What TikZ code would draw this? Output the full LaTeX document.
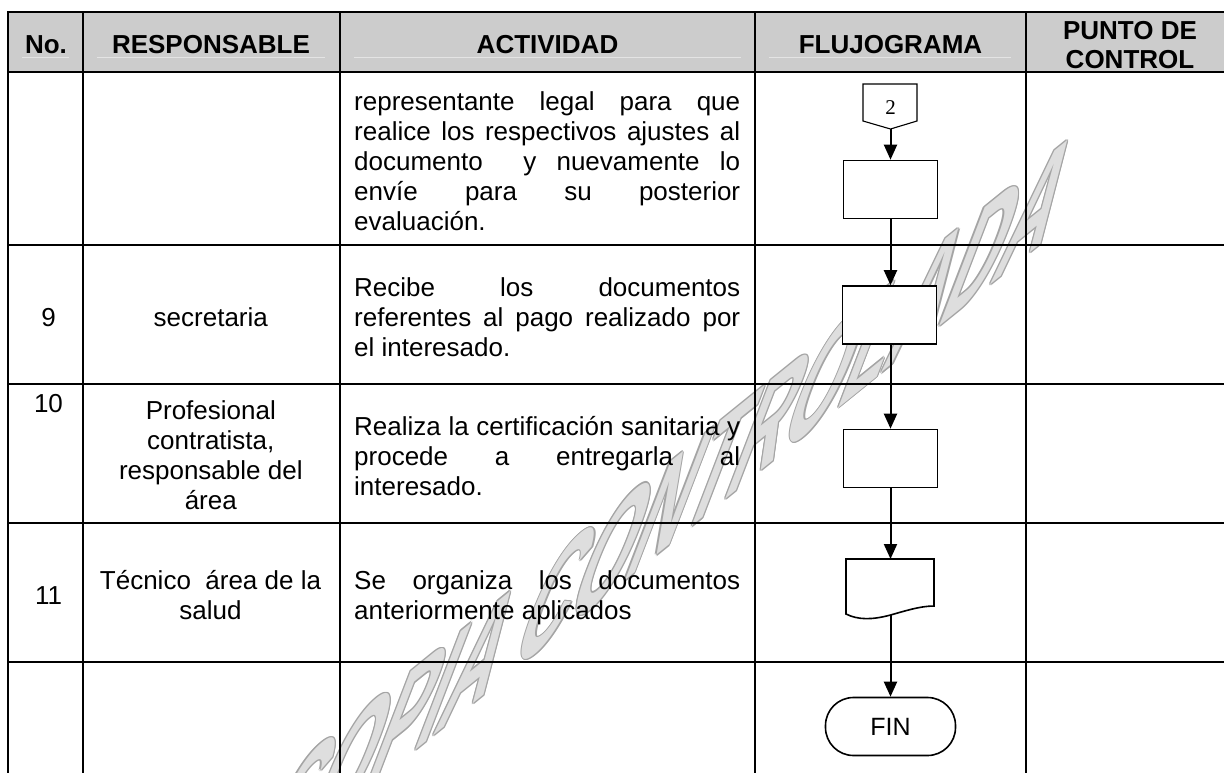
\documentclass[tikz,border=0pt]{standalone}
\usepackage{fontspec}
\setmainfont{Liberation Sans}
\newfontfamily\serifnum{Liberation Serif}
\usetikzlibrary{arrows.meta}
\newcommand\jl[1]{\hbox to 386pt{#1}}
\newcommand\cl[1]{\hbox to 250pt{\hss #1\hss}}
\newcommand\cellv[1]{\vtop{\baselineskip=30pt\lineskip=0pt\lineskiplimit=-100pt #1}}
\definecolor{hdrgray}{HTML}{CCCCCC}
\definecolor{hdrline}{HTML}{E4E4E4}
\definecolor{wmfill}{HTML}{DEDEDE}
\definecolor{wmline}{HTML}{A4A4A4}
\tikzset{
  gridline/.style={line width=2.2pt, line cap=rect},
  hdr/.style={font=\fontsize{26}{28.5}\selectfont\bfseries, inner sep=0pt},
  txt/.style={font=\fontsize{26}{30}\selectfont, inner sep=0pt},
  fbox/.style={draw, fill=white, line width=1.6pt, minimum width=94pt, minimum height=58pt, inner sep=0pt},
  flow/.style={line width=2pt, -{Triangle[length=15pt,width=13pt]}},
  wmark/.style={inner sep=0pt, cm={0.754,0.610,0.663,1.727,(0,0)}, font=\fontsize{100}{100}\selectfont\bfseries},
}
\begin{document}
\begin{tikzpicture}[x=1pt,y=-1pt]
\useasboundingbox (0,0) rectangle (1224,772);
% watermark
\foreach \dx/\dy [count=\i] in {1.3/0,-1.3/0,0/1.3,0/-1.3,0.9/0.9,-0.9/0.9,0.9/-0.9,-0.9/-0.9}{
  \node[wmark, text=wmline] (wmo\i) at (668+\dx,505+\dy) {COPIA CONTROLADA};
}
\node[wmark, text=wmfill] (wm) at (668,505) {COPIA CONTROLADA};
% header fill
\fill[hdrgray] (8,12) rectangle (1224,72);
\foreach \a/\b [count=\i] in {22/69,97/325,354/741,769/1011}{
  \draw[hdrline, line width=0.8pt] (\a,57) -- (\b,57);
}
% grid
\draw[gridline] (8,12) -- (1224,12);
\foreach \y in {72,245,384,523,662}{\draw[gridline] (8,\y) -- (1224,\y);}
\foreach \x in {8,83,340,755,1026}{\draw[gridline] (\x,12) -- (\x,772);}
% header texts
\node[hdr, anchor=base] (hno) at (46,53) {No.};
\node[hdr, anchor=base] (hresp) at (211,53) {RESPONSABLE};
\node[hdr, anchor=base] (hact) at (547.5,53) {ACTIVIDAD};
\node[hdr, anchor=base] (hflu) at (890.5,53) {FLUJOGRAMA};
\node[hdr, anchor=base] (hpc) at (1130,39.5) {\vtop{\baselineskip=28.5pt\hbox to 200pt{\hss PUNTO DE\hss}\hbox to 200pt{\hss CONTROL\hss}}};
% numbers
\node[txt, anchor=base] (n9) at (48.5,326) {9};
\node[txt, anchor=base] (n10) at (48.5,412) {10};
\node[txt, anchor=base] (n11) at (48.5,604) {11};
% responsables
\node[txt, anchor=base] (r9) at (210.8,326) {secretaria};
\node[txt, anchor=base] (r10) at (210.8,419) {\cellv{\cl{Profesional}\cl{contratista,}\cl{responsable del}\cl{área}}};
\node[txt, anchor=base] (r11) at (210.5,589) {\cellv{\cl{Técnico~~área de la}\cl{salud}}};
% actividades
\node[txt, anchor=base west] (a8) at (354,110) {\cellv{%
  \jl{representante\hfill legal\hfill para\hfill que}%
  \jl{realice\hfill los\hfill respectivos\hfill ajustes\hfill al}%
  \jl{documento\hfill\hfill y\hfill nuevamente\hfill lo}%
  \jl{envíe\hfill para\hfill su\hfill posterior}%
  \hbox{evaluación.}}};
\node[txt, anchor=base west] (a9) at (354,296) {\cellv{%
  \jl{Recibe\hfill los\hfill documentos}%
  \jl{referentes\hfill al\hfill pago\hfill realizado\hfill por}%
  \hbox{el interesado.}}};
\node[txt, anchor=base west] (a10) at (354,435) {\cellv{%
  \jl{Realiza\hfill la\hfill certificación\hfill sanitaria\hfill y}%
  \jl{procede\hfill a\hfill entregarla\hfill al}%
  \hbox{interesado.}}};
\node[txt, anchor=base west] (a11) at (354,589) {\cellv{%
  \jl{Se\hfill organiza\hfill los\hfill documentos}%
  \hbox{anteriormente aplicados}}};
% flowchart
\draw[line width=1.1pt, fill=white] (863,84) -- (917,84) -- (917,121) -- (890.5,129) -- (863,121) -- cycle;
\coordinate (c2bot) at (890.5,129);
\node[inner sep=0pt, anchor=base, font=\serifnum\fontsize{21}{22}\selectfont] (c2) at (890.5,114.5) {2};
\node[fbox] (b1) at (890.5,189.5) {};
\node[fbox] (b2) at (889.5,315) {};
\node[fbox] (b3) at (890.5,458.5) {};
\draw[line width=1.6pt, fill=white] (846,614) -- (846,559) -- (934,559) -- (934,606)
  .. controls (920,606) and (905,611) .. (890.5,615)
  .. controls (872,620) and (858,620) .. (846,614) -- cycle;
\coordinate (doctop) at (890.5,559);
\coordinate (docbot) at (890.5,615);
\node[draw, fill=white, line width=1.6pt, rounded corners=28pt, minimum width=130pt, minimum height=58pt, inner sep=0pt, font=\fontsize{25}{27}\selectfont] (fin) at (890.5,726.5) {FIN};
\draw[flow] (c2bot) -- (b1.north);
\draw[flow] (b1.south) -- (b2.north -| b1.south);
\draw[flow] (b2.south -| b1.south) -- (b3.north);
\draw[flow] (b3.south) -- (doctop);
\draw[flow] (docbot) -- (fin.north);
\end{tikzpicture}
\end{document}
